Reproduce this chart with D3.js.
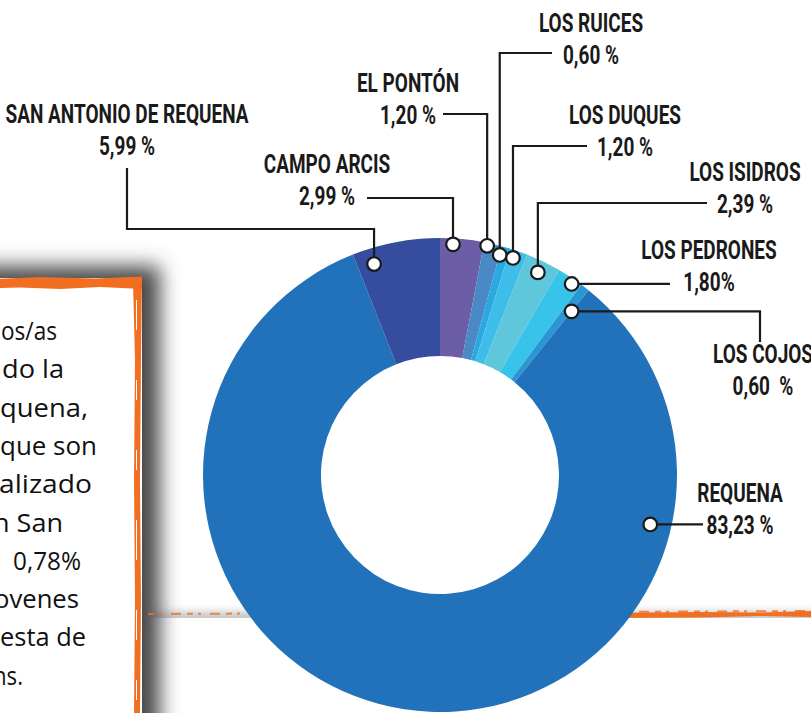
<!DOCTYPE html>
<html>
<head>
<meta charset="utf-8">
<script src="https://cdn.jsdelivr.net/npm/d3@7"></script>
<style>
  body { margin: 0; background: #fff; overflow: hidden; }
  svg { display: block; }
</style>
</head>
<body>
<svg id="chart"></svg>
<script>
// datos
var barrios = ["CAMPO ARCIS", "EL PONTÓN", "LOS RUICES", "LOS DUQUES", "LOS ISIDROS",
               "LOS PEDRONES", "LOS COJOS", "REQUENA", "SAN ANTONIO DE REQUENA"]
var porcentajes = [2.99, 1.20, 0.60, 1.20, 2.39, 1.80, 0.60, 83.23, 5.99]
var etiquetas = ["2,99 %", "1,20 %", "0,60 %", "1,20 %", "2,39 %", "1,80%", "0,60  %", "83,23 %", "5,99 %"]
var colores = ["#6b5ea6", "#4a88c6", "#2aa8e0", "#3fbde9", "#5ec7dc", "#38c3ea", "#2a96d4", "#2272bb", "#364c9e"]

// texto del recuadro (cortado por el borde): inicio y fin de cada linea
var textoPanel = ["os/as", "do la", "quena,", "que son", "alizado", "n San", "0,78%", "ovenes", "esta de", "ns."]
var inicioPanel = [1, 2, 0, 0, -1, -7, 13, -6, 0, -7]
var finPanel = [57, 64, 88, 97, 92, 63, 81, 79, 86, 23]

var dimensions = { width: 811, height: 713, cx: 440, cy: 475, outer: 237, inner: 119 }

// posicion de los puntos y de las guias de cada etiqueta
var guias = [
    { t: 0.30, r: 231, pasos: [["v", 198], ["h", 367]], x: 327, y: 173 },
    { t: 0.20, r: 234, pasos: [["v", 114], ["h", 443]], x: 408, y: 92 },
    { t: 0.05, r: 228, pasos: [["v", 53], ["h", 552]], x: 591, y: 32 },
    { t: 0.31, r: 229, pasos: [["v", 146], ["h", 587]], x: 625, y: 124 },
    { t: 0.49, r: 225, pasos: [["v", 203], ["h", 707]], x: 745, y: 181 },
    { t: 0.68, r: 232, pasos: [["h", 670]], x: 709, y: 259 },
    { t: 1.00, r: 210, pasos: [["h", 760], ["v", 342]], x: 763, y: 363 },
    { t: 0.215, r: 216, pasos: [["h", 703]], x: 740, y: 502 },
    { t: 0.195, r: 221, pasos: [["v", 229], ["h", 127], ["v", 168]], x: 127, y: 123 }
]

var naranja = "#f26f21"
var compresion = 0.76

var svg = d3.select("#chart")
    .attr("width", dimensions.width)
    .attr("height", dimensions.height)

var defs = svg.append("defs")
defs.append("filter").attr("id", "blur").attr("x", "-50%").attr("y", "-50%").attr("width", "200%").attr("height", "200%")
    .append("feGaussianBlur").attr("stdDeviation", 10)
defs.append("filter").attr("id", "blurChico").attr("x", "-20%").attr("y", "-200%").attr("width", "140%").attr("height", "500%")
    .append("feGaussianBlur").attr("stdDeviation", 4)

// segundo recuadro, detras del grafico
svg.append("rect")
    .attr("x", 150).attr("y", 612).attr("width", 700).attr("height", 12)
    .attr("fill", "#9a9a9a").attr("opacity", 0.6)
    .attr("filter", "url(#blurChico)")
svg.append("rect")
    .attr("x", 150).attr("y", 618).attr("width", 700).attr("height", 100)
    .attr("fill", "#fff")

// recuadro de texto de la izquierda
svg.append("rect")
    .attr("x", -40).attr("y", 266).attr("width", 200).attr("height", 520)
    .attr("fill", "#4a4a4a")
    .attr("filter", "url(#blur)")
svg.append("rect")
    .attr("x", -10).attr("y", 278).attr("width", 152).attr("height", 460)
    .attr("fill", "#fff")

// linea naranja del segundo recuadro
svg.append("path")
    .attr("d", "M148,614 L811,611")
    .attr("stroke", naranja).attr("stroke-width", 2)
    .attr("stroke-dasharray", "6,5,3,9,10,6")
    .attr("opacity", 0.8)
svg.append("path")
    .attr("d", "M600,613 L700,612 L760,612.5 L811,611 L811,617 L760,616 L700,617.5 L600,618 Z")
    .attr("fill", naranja)

// borde naranja del recuadro
svg.append("path")
    .attr("d", "M-5,279 L40,277 L95,278.5 L142,276.5 L142,289 L100,287 L60,289 L20,287.5 L-5,288 Z")
    .attr("fill", naranja)
svg.append("path")
    .attr("d", "M133,280 L142,277 L141,360 L140,480 L141,600 L140,713 L134,713 L135,600 L134,480 L135,360 Z")
    .attr("fill", naranja)
svg.append("g")
    .selectAll("line")
    .data([[300, 330], [380, 400], [450, 470], [520, 560], [610, 640], [680, 700]])
    .enter()
    .append("line")
    .attr("x1", 136.5).attr("x2", 136.5)
    .attr("y1", d => d[0]).attr("y2", d => d[1])
    .attr("stroke", "#fff").attr("stroke-width", 1)

svg.append("g")
    .selectAll("text")
    .data(textoPanel)
    .enter()
    .append("text")
    .attr("x", (d, i) => inicioPanel[i])
    .attr("y", (d, i) => 340 + i * 38.3)
    .attr("textLength", (d, i) => finPanel[i] - inicioPanel[i])
    .attr("lengthAdjust", "spacingAndGlyphs")
    .attr("font-family", "'Open Sans', sans-serif")
    .attr("font-size", 26)
    .attr("fill", "#111")
    .text(d => d)

// grafico de anillo
var pie = d3.pie().sort(null).value(d => d)
var arcos = pie(porcentajes)
var arcGen = d3.arc().innerRadius(dimensions.inner).outerRadius(dimensions.outer)

var dona = svg.append("g")
    .attr("transform", `translate(${dimensions.cx},${dimensions.cy})`)

dona.selectAll("path")
    .data(arcos)
    .enter()
    .append("path")
    .attr("d", arcGen)
    .attr("fill", (d, i) => colores[i])

// puntos sobre el anillo
var puntos = arcos.map(function (d, i) {
    var g = guias[i]
    var a = d.startAngle + g.t * (d.endAngle - d.startAngle)
    return [dimensions.cx + g.r * Math.sin(a), dimensions.cy - g.r * Math.cos(a)]
})

var lineas = svg.append("g")
lineas.selectAll("path")
    .data(guias)
    .enter()
    .append("path")
    .attr("d", function (g, i) {
        var p = puntos[i].slice()
        var d = "M" + p[0] + "," + p[1]
        g.pasos.forEach(function (s) {
            if (s[0] == "v") p[1] = s[1]
            else p[0] = s[1]
            d += " L" + p[0] + "," + p[1]
        })
        return d
    })
    .attr("fill", "none")
    .attr("stroke", "#1a1a1a")
    .attr("stroke-width", 2.2)

svg.append("g")
    .selectAll("circle")
    .data(puntos)
    .enter()
    .append("circle")
    .attr("cx", d => d[0])
    .attr("cy", d => d[1])
    .attr("r", 6.8)
    .attr("fill", "#fff")
    .attr("stroke", "#1a1a1a")
    .attr("stroke-width", 2.2)

// etiquetas
var textos = svg.append("g")
    .selectAll("g")
    .data(barrios)
    .enter()
    .append("g")
    .attr("transform", (d, i) => `translate(${guias[i].x},${guias[i].y}) scale(${compresion},1)`)
    .attr("font-family", "Roboto, sans-serif")
    .attr("font-weight", "bold")
    .attr("font-size", 25)
    .attr("fill", "#1a1a1a")
    .attr("text-anchor", "middle")

textos.append("text")
    .text(d => d)
textos.append("text")
    .attr("y", 32)
    .attr("xml:space", "preserve")
    .style("white-space", "pre")
    .text((d, i) => etiquetas[i])
</script>
</body>
</html>
